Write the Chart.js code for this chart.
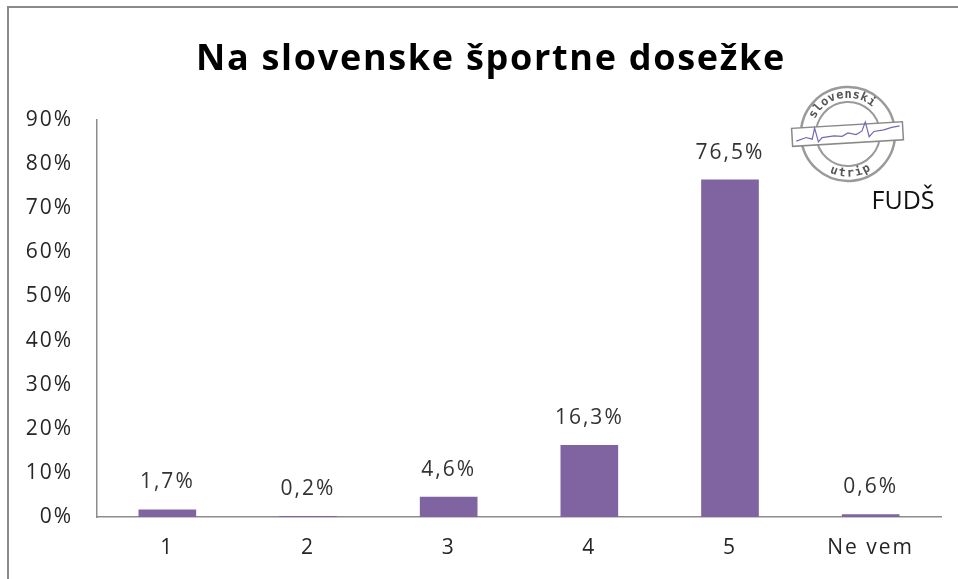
<!DOCTYPE html>
<html>
<head>
<meta charset="utf-8">
<script src="https://cdn.jsdelivr.net/npm/chart.js@4"></script>
<style>
    html, body { margin: 0; padding: 0; background: #fff; }
    #wrap { position: relative; width: 958px; height: 579px; }
    #frame { position: absolute; left: 7px; top: 6px; right: 0; bottom: 0; border-top: 2px solid #8a8a8a; border-left: 2px solid #8a8a8a; pointer-events: none; }
</style>
</head>
<body>
<div id="wrap">
    <canvas id="chart" width="958" height="579"></canvas>
    <div id="frame"></div>
</div>
<script>
const categories = ["1", "2", "3", "4", "5", "Ne vem"]
const values = [1.7, 0.2, 4.6, 16.3, 76.5, 0.6]
const yTicks = [0, 10, 20, 30, 40, 50, 60, 70, 80, 90]
const titleText = "Na slovenske športne dosežke"

const FONT = "'Open Sans', Lato, sans-serif"

function fmt(v) {
    return v.toFixed(1).replace(".", ",") + "%"
}

// the original text is a bit wider tracked
const spacing = {
    id: "spacing",
    beforeUpdate(chart) { chart.ctx.letterSpacing = "2px" },
    beforeDraw(chart) { chart.ctx.letterSpacing = "2px" }
}

// title, centred a little right of the canvas middle like the original
const title = {
    id: "titleText",
    afterDraw(chart) {
        const ctx = chart.ctx
        ctx.save()
        ctx.letterSpacing = "1.7px"
        ctx.font = "bold 36px " + FONT
        ctx.fillStyle = "#000"
        ctx.textAlign = "center"
        ctx.textBaseline = "middle"
        ctx.fillText(titleText, 491, 60)
        ctx.restore()
    }
}

// value labels above the bars
const barLabels = {
    id: "barLabels",
    afterDatasetsDraw(chart) {
        const ctx = chart.ctx
        const meta = chart.getDatasetMeta(0)
        ctx.save()
        ctx.font = "21px " + FONT
        ctx.fillStyle = "#333"
        ctx.textAlign = "center"
        ctx.textBaseline = "middle"
        meta.data.forEach((bar, i) => {
            ctx.fillText(fmt(values[i]), bar.x, bar.y - 27)
        })
        ctx.restore()
    }
}

// "slovenski utrip" stamp + FUDŠ
const logo = {
    id: "logo",
    afterDraw(chart) {
        const ctx = chart.ctx
        const cx = 848, cy = 134
        ctx.save()
        ctx.letterSpacing = "0px"
        ctx.translate(cx, cy)
        ctx.rotate(-0.06)
        ctx.strokeStyle = "#9a9a9a"
        ctx.lineWidth = 2.5
        ctx.beginPath(); ctx.arc(0, 0, 47, 0, Math.PI * 2); ctx.stroke()
        ctx.lineWidth = 2
        ctx.beginPath(); ctx.arc(0, 0, 32, 0, Math.PI * 2); ctx.stroke()

        ctx.fillStyle = "#555"
        ctx.font = "bold 12px 'DejaVu Sans Mono', monospace"
        ctx.textAlign = "center"
        ctx.textBaseline = "middle"
        const top = "slovenski"
        const step = 0.21
        top.split("").forEach((ch, i) => {
            const a = -Math.PI / 2 + (i - (top.length - 1) / 2) * step - 0.15
            ctx.save()
            ctx.rotate(a + Math.PI / 2)
            ctx.fillText(ch, 0, -39.5)
            ctx.restore()
        })
        const bot = "utrip"
        bot.split("").forEach((ch, i) => {
            const a = Math.PI / 2 - (i - (bot.length - 1) / 2) * step
            ctx.save()
            ctx.rotate(a - Math.PI / 2)
            ctx.fillText(ch, 0, 39.5)
            ctx.restore()
        })

        // band
        ctx.fillStyle = "#fff"
        ctx.strokeStyle = "#8a8a8a"
        ctx.lineWidth = 1.5
        ctx.fillRect(-56, -9, 111, 18)
        ctx.strokeRect(-56, -9, 111, 18)
        ctx.strokeStyle = "#7468b0"
        ctx.lineWidth = 1.2
        ctx.beginPath()
        ctx.moveTo(-52, 4)
        ctx.lineTo(-42, 1); ctx.lineTo(-36, 3); ctx.lineTo(-33, -8); ctx.lineTo(-30, 6)
        ctx.lineTo(-26, 2); ctx.lineTo(-14, 1); ctx.lineTo(-6, 2); ctx.lineTo(0, -1)
        ctx.lineTo(8, 1); ctx.lineTo(14, -2); ctx.lineTo(18, -11); ctx.lineTo(21, 4)
        ctx.lineTo(26, -1); ctx.lineTo(36, -2); ctx.lineTo(44, -4); ctx.lineTo(52, -5)
        ctx.stroke()
        ctx.restore()

        ctx.save()
        ctx.letterSpacing = "0px"
        ctx.font = "25px " + FONT
        ctx.fillStyle = "#111"
        ctx.textAlign = "center"
        ctx.textBaseline = "middle"
        ctx.fillText("FUDŠ", 903, 202)
        ctx.restore()
    }
}

new Chart(document.getElementById("chart"), {
    type: "bar",
    data: {
        labels: categories,
        datasets: [{
            data: values,
            backgroundColor: "#8064A2",
            borderWidth: 0,
            categoryPercentage: 1,
            barPercentage: 0.41
        }]
    },
    options: {
        responsive: false,
        animation: false,
        layout: { padding: { left: 0, right: 17, top: 120, bottom: 0 } },
        plugins: {
            legend: { display: false },
            tooltip: { enabled: false },
            title: { display: false }
        },
        scales: {
            x: {
                afterFit(scale) { scale.height = 62 },
                grid: { display: false, drawTicks: false },
                border: { display: true, color: "#8c8c8c", width: 1.5 },
                ticks: { color: "#262626", font: { family: FONT, size: 21 }, padding: 18 }
            },
            y: {
                min: 0,
                max: 90,
                afterFit(scale) { scale.width = 97 },
                afterBuildTicks(scale) { scale.ticks = yTicks.map(v => ({ value: v })) },
                grid: { display: false, drawTicks: false },
                border: { display: true, color: "#8c8c8c", width: 1.5 },
                ticks: { color: "#262626", font: { family: FONT, size: 21 }, padding: 24, callback: v => v + "%" }
            }
        }
    },
    plugins: [spacing, title, barLabels, logo]
})
</script>
</body>
</html>
